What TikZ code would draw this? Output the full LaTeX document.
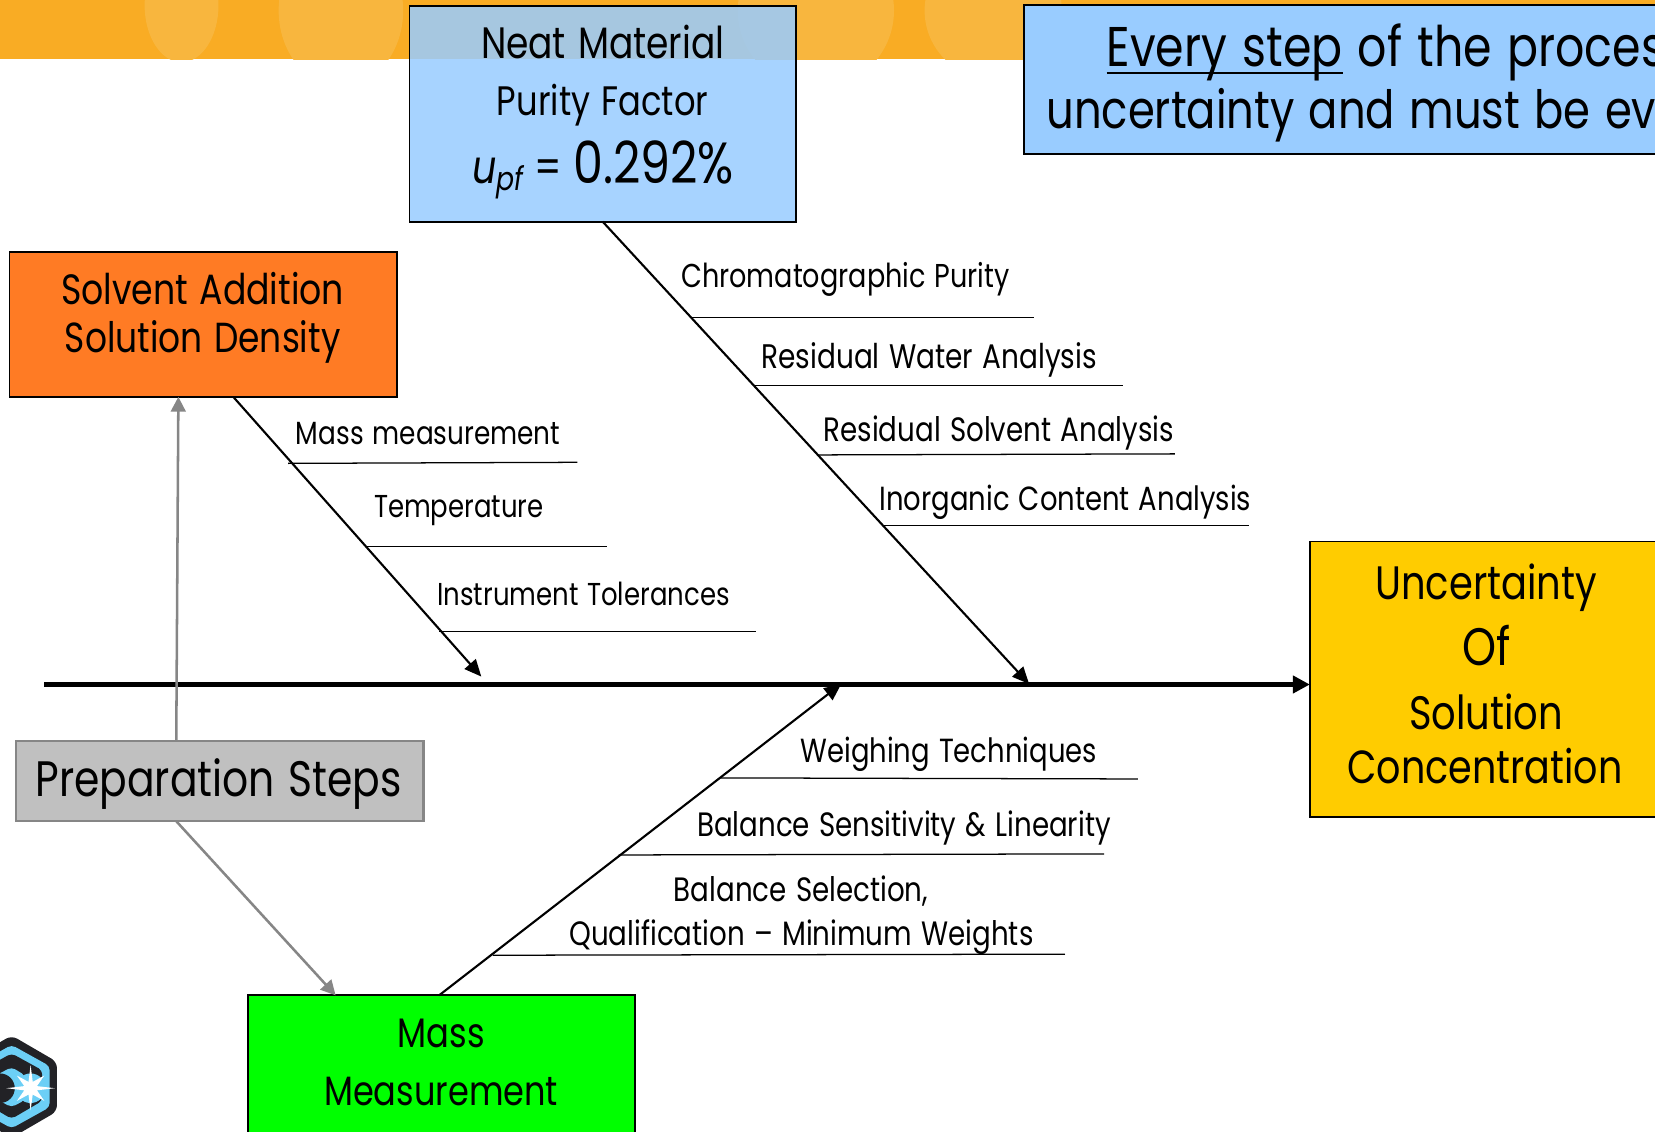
\documentclass[tikz,border=0pt]{standalone}
\usepackage{fontspec}
\setmainfont[FakeStretch=0.82,WordSpace=1.25]{Poppins}
\usetikzlibrary{arrows.meta,calc}
\definecolor{bandc}{HTML}{F9AC24}
\definecolor{bandl}{HTML}{F8B63E}
\definecolor{boxblue}{HTML}{99CCFF}
\definecolor{boxorange}{HTML}{FF7B24}
\definecolor{boxgold}{HTML}{FFCC00}
\definecolor{boxgreen}{HTML}{00FF00}
\definecolor{boxgray}{HTML}{C0C0C0}
\definecolor{linegray}{HTML}{868686}
\definecolor{logoblue}{HTML}{6CCFF6}
\definecolor{logodark}{HTML}{222226}
\newcommand\thickul[1]{\setbox0\hbox{#1}\rlap{\rule[-3.6pt]{\wd0}{1.4pt}}\box0{}}
\tikzset{
  box/.style={draw=black,line width=0.9pt,inner sep=0pt,outer sep=0pt,align=center,anchor=north west},
  txt/.style={inner sep=0pt,font=\fontsize{#1}{#1}\selectfont},
  lab/.style={font=\fontsize{#1}{18}\selectfont,inner sep=0pt,anchor=west},
  rib/.style={draw=black,line width=1pt,-{Triangle[length=8pt,width=7pt]}},
  grayrib/.style={draw=linegray,line width=1.2pt,-{Triangle[length=7pt,width=7pt]}},
  shelf/.style={draw=black,line width=0.6pt},
}
\begin{document}
\begin{tikzpicture}[x=0.5pt,y=-0.5pt]
\useasboundingbox (0,0) rectangle (1568,1072);
% banner
\fill[bandc] (0,0) rectangle (1568,56);
\begin{scope}
\clip (0,0) rectangle (1568,56);
\fill[bandl] (172,5) ellipse [x radius=35,y radius=54];
\fill[bandl] (323,10) ellipse [x radius=59,y radius=72];
\fill[bandl] (773,10) circle (74);
\fill[bandl] (941,10) circle (65);
\end{scope}
% logo
\begin{scope}
\clip (0,975) rectangle (70,1072);
\fill[logodark,rounded corners=3pt] (11,981) -- (54,1006) -- (54,1053) -- (11,1078) -- (-32,1053) -- (-32,1006) -- cycle;
\fill[logoblue,rounded corners=2pt] (11,990) -- (47,1010) -- (47,1049) -- (11,1069) -- (-25,1049) -- (-25,1010) -- cycle;
\fill[logodark,rounded corners=2pt] (11,998) -- (40,1014) -- (40,1043) -- (11,1060) -- (-18,1043) -- (-18,1014) -- cycle;
\fill[logoblue,rounded corners=2pt] (11,1011) -- (24,1019) -- (24,1042) -- (11,1049) -- (-6,1040) -- (-6,1020) -- cycle;
\fill[logoblue] (29,1031) circle (14);
\fill[logodark] (0,1031) circle (14);
\fill[white] (29,1009) -- (31,1025) -- (42,1019) -- (35,1029) -- (52,1031) -- (35,1033) -- (42,1043) -- (31,1037) -- (29,1052) -- (27,1037) -- (16,1043) -- (23,1033) -- (6,1031) -- (23,1029) -- (16,1019) -- (27,1025) -- cycle;
\fill[white] (29,1031) circle (6);
\end{scope}
% boxes
\node[box,fill=boxblue,fill opacity=0.86,text opacity=1,minimum width=183pt,minimum height=102pt] (neat) at (388,6) {};
\node[txt=20.8] (neat1) at (571,40) {Neat Material};
\node[txt=19.5] (neat2) at (571,100) {Purity Factor};
\node[inner sep=0pt,anchor=west] (neat3) at (447,161) {\fontsize{22}{22}\selectfont\textit{u}\raisebox{-3.5pt}{\fontsize{15.5}{15.5}\selectfont\textit{pf}}\hspace{0.2em}=\fontsize{27.5}{27.5}\selectfont\hspace{0.2em}0.292\%};
\node[box,fill=boxblue,minimum width=320pt,minimum height=70.5pt] (every) at (970,5) {};
\node[txt=26.5,anchor=west] (every1) at (1048,50) {\thickul{Every step} of the proces};
\node[txt=25,anchor=west] (every2) at (991,109) {uncertainty and must be ev};
\node[box,fill=boxorange,minimum width=183.5pt,minimum height=68.5pt] (solvent) at (9,239) {};
\node[txt=20.05] (solvent1) at (192,273) {Solvent Addition};
\node[txt=19.9] (solvent2) at (192,324) {Solution Density};
\node[box,draw=linegray,line width=1.2pt,fill=boxgray,minimum width=193pt,minimum height=38pt] (prep) at (15,702) {};
\node[txt=23.6] (prep1) at (207,743) {Preparation Steps};
\node[box,fill=boxgold,minimum width=170pt,minimum height=130.5pt] (result) at (1241,513) {};
\node[txt=22.2] (result1) at (1408,557) {Uncertainty};
\node[txt=25] (result2) at (1408,612) {Of};
\node[txt=22.2] (result3) at (1408,674) {Solution};
\node[txt=22] (result4) at (1407,726) {Concentration};
\node[box,fill=boxgreen,minimum width=183.5pt,minimum height=70pt] (mass) at (235,943) {};
\node[txt=19.5] (mass1) at (418,979) {Mass};
\node[txt=19.4] (mass2) at (418,1034) {Measurement};
% spine
\coordinate (tail) at (42,648.5);
\draw[line width=2.8pt,-{Triangle[length=8pt,width=8pt]}] (tail) -- (result.west |- tail);
% ribs
\coordinate (tipneat) at (975,648);
\coordinate (tipsolv) at (456,641);
\coordinate (tipmass) at (797,648);
\coordinate (solvstart) at (221,376);
\coordinate (massstart) at (416,943);
\draw[rib] (neat.south) -- (tipneat);
\draw[rib] (solvstart) -- (tipsolv);
\draw[rib] (massstart) -- (tipmass);
% gray
\coordinate (prepa) at (167,702);
\coordinate (prepb) at (167,778);
\coordinate (solvin) at (169,376);
\coordinate (massin) at (318,943);
\draw[grayrib] (prepa) -- (solvin);
\draw[grayrib] (prepb) -- (massin);
% shelves and labels
\foreach \nm/\xa/\ya/\xb/\yb in {s1/656/301/980/301,s2/715/365/1064/365,s3/775/431/1113/430,s4/836/498/1183/498,s5/273/439/547/438,s6/347/518/575/518,s7/416/598/716/598,s8/683/737/1078/738,s9/586/810/1046/809,s10/467/905/1009/904}{
  \coordinate (\nm a) at (\xa,\ya);
  \coordinate (\nm b) at (\xb,\yb);
  \draw[shelf] (\nm a) -- (\nm b);
}
\node[lab=15.65] (l1) at (645,265) {Chromatographic Purity};
\node[lab=16.15] (l2) at (721,341) {Residual Water Analysis};
\node[lab=16] (l3) at (780,410) {Residual Solvent Analysis};
\node[lab=15.85] (l4) at (833,476) {Inorganic Content Analysis};
\node[lab=15.2] (l5) at (280,411) {Mass measurement};
\node[lab=15] (l6) at (354,484) {Temperature};
\node[lab=15] (l7) at (414,563) {Instrument Tolerances};
\node[lab=15.85] (l8) at (758,715) {Weighing Techniques};
\node[lab=16] (l9) at (660,784) {Balance Sensitivity \& Linearity};
\node[lab=16] (l10) at (638,844) {Balance Selection,};
\node[lab=16] (l11) at (539,888) {Qualification – Minimum Weights};
\end{tikzpicture}
\end{document}
